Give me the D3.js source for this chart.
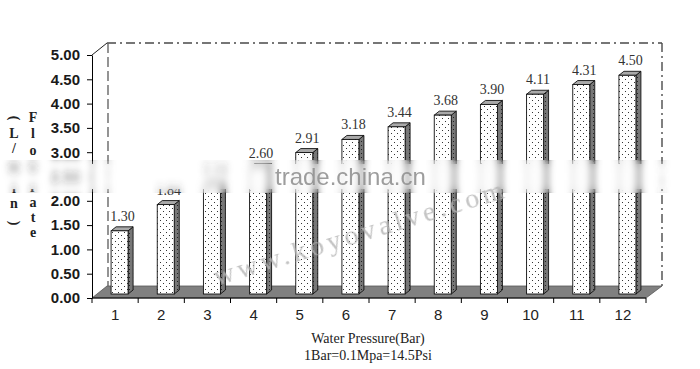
<!DOCTYPE html>
<html><head><meta charset="utf-8">
<script src="https://cdn.jsdelivr.net/npm/d3@7"></script>
<style>html,body{margin:0;padding:0;background:#fff;}svg{display:block;}</style>
</head><body>
<svg id="chart" width="700" height="369"></svg>
<script>
const categories = ["1","2","3","4","5","6","7","8","9","10","11","12"];
const flowRates = [1.30,1.84,2.24,2.60,2.91,3.18,3.44,3.68,3.90,4.11,4.31,4.50];
const yTicks = [0,0.5,1,1.5,2,2.5,3,3.5,4,4.5,5];
const yTitleCol1 = ["(", "L", "/", "m", "i", "n", ")"];
const yTitleCol2 = ["F","l","o","w","r","a","t","e"];
const xTitle = "Water Pressure(Bar)";
const xSubTitle = "1Bar=0.1Mpa=14.5Psi";

const svg = d3.select("#chart");
const defs = svg.append("defs");
const pat = defs.append("pattern").attr("id","dots").attr("patternUnits","userSpaceOnUse")
  .attr("width",6).attr("height",6);
pat.append("rect").attr("width",6).attr("height",6).attr("fill","#fff");
pat.append("rect").attr("x",1).attr("y",1).attr("width",1).attr("height",1).attr("fill","#333");
pat.append("rect").attr("x",4).attr("y",4).attr("width",1).attr("height",1).attr("fill","#333");
const patS = defs.append("pattern").attr("id","dotsSide").attr("patternUnits","userSpaceOnUse")
  .attr("width",4).attr("height",4);
patS.append("rect").attr("width",4).attr("height",4).attr("fill","#777");
patS.append("rect").attr("x",1).attr("y",1).attr("width",1).attr("height",1).attr("fill","#222");

const bandY0 = 164, bandY1 = 189;
defs.append("clipPath").attr("id","outside").append("path")
  .attr("d",`M0,0H700V${bandY0}H0Z M0,${bandY1}H700V369H0Z`);
defs.append("clipPath").attr("id","inband").append("rect")
  .attr("x",0).attr("y",bandY0-4).attr("width",700).attr("height",bandY1-bandY0+8);
const blur = defs.append("filter").attr("id","blur").attr("x","-5%").attr("y","-5%").attr("width","110%").attr("height","110%");
blur.append("feGaussianBlur").attr("stdDeviation","3 4");

const wrap = svg.append("g").attr("clip-path","url(#outside)");
const g = wrap.append("g").attr("id","content");

// geometry
const x0 = 92, x1 = 646, yBase = 298, yTop = 55;
const depthX = 15, depthY = -12;
const x = d3.scaleBand().domain(categories).range([x0, x1]).paddingInner(0).paddingOuter(0);
const y = d3.scaleLinear().domain([0,5]).range([yBase, yTop]);

// back wall dashed edges
const wallColor = "#4a4a4a";
g.append("line").attr("x1",x0+depthX).attr("y1",y(5)+depthY).attr("x2",x1+depthX+1).attr("y2",y(5)+depthY)
  .attr("stroke",wallColor).attr("stroke-width",1.4).attr("stroke-dasharray","9,4,2,4");
g.append("line").attr("x1",x1+depthX+1).attr("y1",y(5)+depthY).attr("x2",x1+depthX+1).attr("y2",y(0)+depthY)
  .attr("stroke",wallColor).attr("stroke-width",1.4).attr("stroke-dasharray","9,4,2,4");
g.append("line").attr("x1",x0+depthX+1).attr("y1",y(5)+depthY).attr("x2",x0+depthX+1).attr("y2",y(0)+depthY)
  .attr("stroke","#666").attr("stroke-width",1.4).attr("stroke-dasharray","10,4");

// floor
g.append("path")
  .attr("d",`M${x0},${yBase}L${x1},${yBase}L${x1+depthX+1},${yBase+depthY}L${x0+depthX},${yBase+depthY}Z`)
  .attr("fill","#808080").attr("stroke","#555").attr("stroke-width",0.8);

// y axis
const yAxis = d3.axisLeft(y).tickValues(yTicks).tickFormat(d3.format(".2f")).tickSize(5).tickSizeOuter(0).tickPadding(7);
const ya = g.append("g").attr("transform",`translate(${x0},0)`).call(yAxis);
ya.select(".domain").attr("stroke","#000");
ya.selectAll(".tick line").attr("stroke","#000");
ya.selectAll("text").attr("font-family","'Liberation Sans', Arial, sans-serif").attr("font-weight","bold")
  .attr("font-size","15px").attr("fill","#1a1a1a");
g.append("line").attr("x1",x0).attr("y1",y(5)).attr("x2",x0+depthX).attr("y2",y(5)+depthY)
  .attr("stroke","#222").attr("stroke-width",1);

// x axis
g.append("line").attr("x1",x0).attr("y1",yBase).attr("x2",x1).attr("y2",yBase).attr("stroke","#000");
const bounds = categories.map(c => x(c)).concat([x1]);
g.selectAll(".xtick").data(bounds).join("line").attr("class","xtick")
  .attr("x1",d=>d).attr("x2",d=>d).attr("y1",yBase).attr("y2",yBase+5).attr("stroke","#000");
g.selectAll(".xlab").data(categories).join("text").attr("class","xlab")
  .attr("x",d=>x(d)+x.bandwidth()/2).attr("y",320).attr("text-anchor","middle")
  .attr("font-family","'Liberation Sans', Arial, sans-serif").attr("font-size","15px").attr("fill","#222")
  .text(d=>d);

// bars
const barW = 17, bdx = 5, bdy = -4, barOffX = -4, barOffY = -4;
const bars = g.selectAll(".bar").data(categories.map((c,i)=>({c, v: flowRates[i]}))).join("g").attr("class","bar");
const bl = d => x(d.c) + x.bandwidth()/2 + barOffX;
const bt = d => y(d.v) + barOffY;
const bb = yBase + barOffY;
bars.append("path").attr("d", d => `M${bl(d)+barW},${bt(d)}L${bl(d)+barW+bdx},${bt(d)+bdy}L${bl(d)+barW+bdx},${bb+bdy}L${bl(d)+barW},${bb}Z`)
  .attr("fill","url(#dotsSide)").attr("stroke","#111").attr("stroke-width",0.9);
bars.append("path").attr("d", d => `M${bl(d)},${bt(d)}L${bl(d)+bdx},${bt(d)+bdy}L${bl(d)+barW+bdx},${bt(d)+bdy}L${bl(d)+barW},${bt(d)}Z`)
  .attr("fill","#a9a9a9").attr("stroke","#111").attr("stroke-width",0.9);
bars.append("rect").attr("x",bl).attr("y",bt).attr("width",barW).attr("height",d=>bb-bt(d))
  .attr("fill","url(#dots)").attr("stroke","#111").attr("stroke-width",0.9);
bars.append("text").attr("x",d=>bl(d)+barW/2+3).attr("y",d=>bt(d)-10).attr("text-anchor","middle")
  .attr("font-family","'Liberation Serif', 'Times New Roman', serif").attr("font-size","14px").attr("fill","#333")
  .text(d=>d3.format(".2f")(d.v));

// y title (stacked)
const col1Y = [118, 138, 153, 172, 193, 208, 223];
const col2Y = [122, 138, 155, 172, 192, 207, 222, 237];
const tFont = "'Liberation Serif', 'Times New Roman', serif";
yTitleCol1.forEach((ch,i) => {
  const t = g.append("text").attr("font-family",tFont).attr("font-weight","bold").attr("font-size","14px")
    .attr("fill","#222").attr("text-anchor","middle").text(ch);
  if (ch === "(" || ch === ")") {
    t.attr("dominant-baseline","central").attr("transform",`translate(14,${col1Y[i]}) rotate(90)`);
  } else {
    t.attr("x",14).attr("y",col1Y[i]);
  }
});
yTitleCol2.forEach((ch,i) => {
  g.append("text").attr("font-family",tFont).attr("font-weight","bold").attr("font-size","14px")
    .attr("fill","#222").attr("text-anchor","middle").attr("x",33).attr("y",col2Y[i]).text(ch);
});

// x titles
g.append("text").attr("x",368).attr("y",343).attr("text-anchor","middle").attr("font-family",tFont)
  .attr("font-size","14px").attr("fill","#222").text(xTitle);
g.append("text").attr("x",368).attr("y",360).attr("text-anchor","middle").attr("font-family",tFont)
  .attr("font-size","14px").attr("fill","#222").text(xSubTitle);

// blurred band (watermark removal smudge)
svg.append("g").attr("clip-path","url(#inband)").append("use").attr("href","#content").attr("filter","url(#blur)");
svg.append("rect").attr("x",0).attr("y",bandY0-1).attr("width",700).attr("height",bandY1-bandY0+2)
  .attr("fill","#fff").attr("opacity",0.5).attr("filter","url(#blur)");

// watermarks
svg.append("text").attr("x",275).attr("y",185).attr("font-family","'Liberation Sans', Arial, sans-serif")
  .attr("font-size","24px").attr("fill","#8c8c8c").attr("opacity",0.85).text("trade.china.cn");
svg.append("text").attr("transform","translate(217,286) rotate(-17)")
  .attr("font-family",tFont).attr("font-size","28px").attr("letter-spacing","4px")
  .attr("fill","#b4b4b4").attr("opacity",0.8).text("www.koyovalve.com");
</script>
</body></html>
